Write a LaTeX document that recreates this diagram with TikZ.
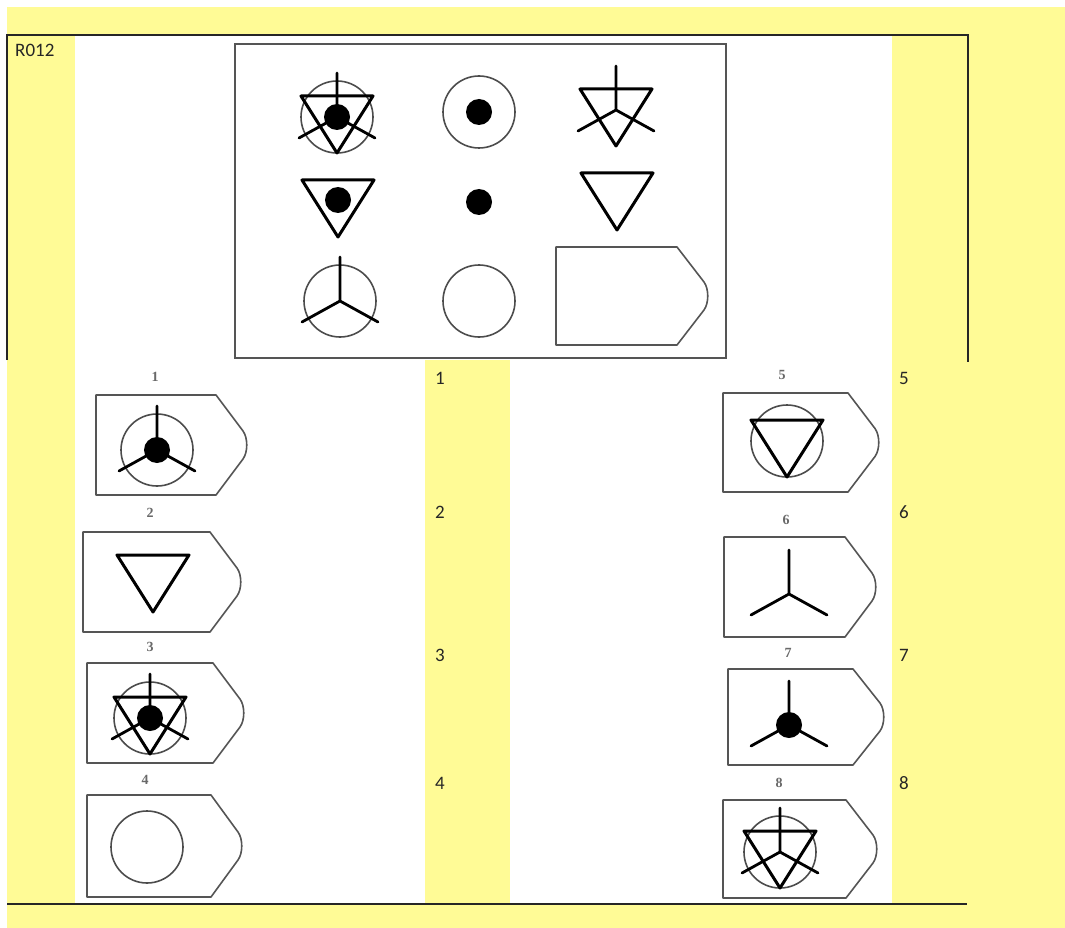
\documentclass[tikz,border=0pt]{standalone}
\usepackage{fontspec}
\setmainfont{Carlito}
\newfontfamily\scanfont{Liberation Serif}
\definecolor{bgyellow}{RGB}{255,251,150}
\definecolor{scangray}{RGB}{85,85,85}
\definecolor{lblgray}{RGB}{105,105,105}
\newcommand{\tagshape}[4]{%
  \draw[boxline] (#1,#2) -- ({#3-32},#2) -- ({#3-5},{(#2+#4)/2-14})
    .. controls ({#3},{(#2+#4)/2-7}) and ({#3},{(#2+#4)/2+7}) .. ({#3-5},{(#2+#4)/2+14})
    -- ({#3-32},#4) -- (#1,#4) -- cycle;}
\tikzset{
  frameline/.style={line width=1.4pt, draw=black!85},
  imgbox/.style={line width=2pt, draw=scangray},
  boxline/.style={line width=1.6pt, draw=scangray, line join=round},
  circline/.style={line width=1.6pt, draw=black!70},
  triline/.style={line width=3pt, draw=black, line join=round},
  spkline/.style={line width=2.8pt, draw=black, line cap=round},
  bignum/.style={font=\fontsize{19}{22}\selectfont, text=black!85, inner sep=0pt},
  smalllbl/.style={font=\scanfont\bfseries\fontsize{14}{16}\selectfont, text=lblgray, inner sep=0pt},
  pics/circ/.style={code={\draw[circline] (0,0) circle (36);}},
  pics/tri/.style={code={\draw[triline] (-36,-21) -- (36,-21) -- (0,36) -- cycle;}},
  pics/spk/.style={code={\draw[spkline] (0,0) -- (0,-44) (0,0) -- (-38,21) (0,0) -- (38,21);}},
  pics/blob/.style={code={\fill[black] (0,0) circle (13);}}
}
\begin{document}
\begin{tikzpicture}[x=1pt,y=-1pt]
\useasboundingbox (0,0) rectangle (1065,928);
% background
\fill[white] (0,0) rectangle (1065,928);
\fill[bgyellow] (7,7) rectangle (1065,928);
\fill[white] (75,36) rectangle (892,360);
\fill[white] (75,360) rectangle (425,904);
\fill[white] (510,360) rectangle (892,904);
% table frame
\draw[frameline] (7,360) -- (7,35) -- (968,35) -- (968,362);
\draw[frameline] (7,904) -- (967,904);
% title
\node[bignum, anchor=west] (title) at (15,50) {R012};
% top image box
\draw[imgbox] (235,44) rectangle (726,358);
% row 1
\pic at (337,117) {circ}; \pic at (337,117) {tri}; \pic at (337,117) {spk}; \pic at (337,117) {blob};
\pic at (479,112) {circ}; \pic at (479,112) {blob};
\pic at (616,110) {tri}; \pic at (616,110) {spk};
% row 2
\pic at (338,201) {tri}; \pic at (338,200) {blob};
\pic at (479,202) {blob};
\pic at (617,194) {tri};
% row 3
\pic at (340,301) {circ}; \pic at (340,301) {spk};
\pic at (479,301) {circ};
\tagshape{556}{247}{709}{345}
% options left
\node[smalllbl] (s1) at (155,377) {1};
\tagshape{96}{395}{248}{495}
\pic at (157,450) {circ}; \pic at (157,450) {spk}; \pic at (157,450) {blob};
\node[smalllbl] (s2) at (150,513) {2};
\tagshape{83}{532}{242}{632}
\pic at (153,576) {tri};
\node[smalllbl] (s3) at (150,647) {3};
\tagshape{87}{663}{245}{763}
\pic at (150,718) {circ}; \pic at (150,718) {tri}; \pic at (150,718) {spk}; \pic at (150,718) {blob};
\node[smalllbl] (s4) at (145,780) {4};
\tagshape{87}{795}{243}{897}
\pic at (147,847) {circ};
% options right
\node[smalllbl] (s5) at (782,375) {5};
\tagshape{723}{393}{880}{492}
\pic at (787,441) {circ}; \pic at (787,441) {tri};
\node[smalllbl] (s6) at (786,520) {6};
\tagshape{724}{537}{877}{637}
\pic at (789,594) {spk};
\node[smalllbl] (s7) at (788,653) {7};
\tagshape{728}{669}{885}{765}
\pic at (789,725) {spk}; \pic at (789,725) {blob};
\node[smalllbl] (s8) at (779,783) {8};
\tagshape{723}{800}{878}{898}
\pic at (780,852) {circ}; \pic at (780,852) {tri}; \pic at (780,852) {spk};
% yellow column numbers
\node[bignum] (n1) at (440,378) {1};
\node[bignum] (n2) at (440,512) {2};
\node[bignum] (n3) at (440,655) {3};
\node[bignum] (n4) at (440,783) {4};
\node[bignum] (n5) at (904,378) {5};
\node[bignum] (n6) at (904,512) {6};
\node[bignum] (n7) at (904,655) {7};
\node[bignum] (n8) at (904,783) {8};
\end{tikzpicture}
\end{document}
